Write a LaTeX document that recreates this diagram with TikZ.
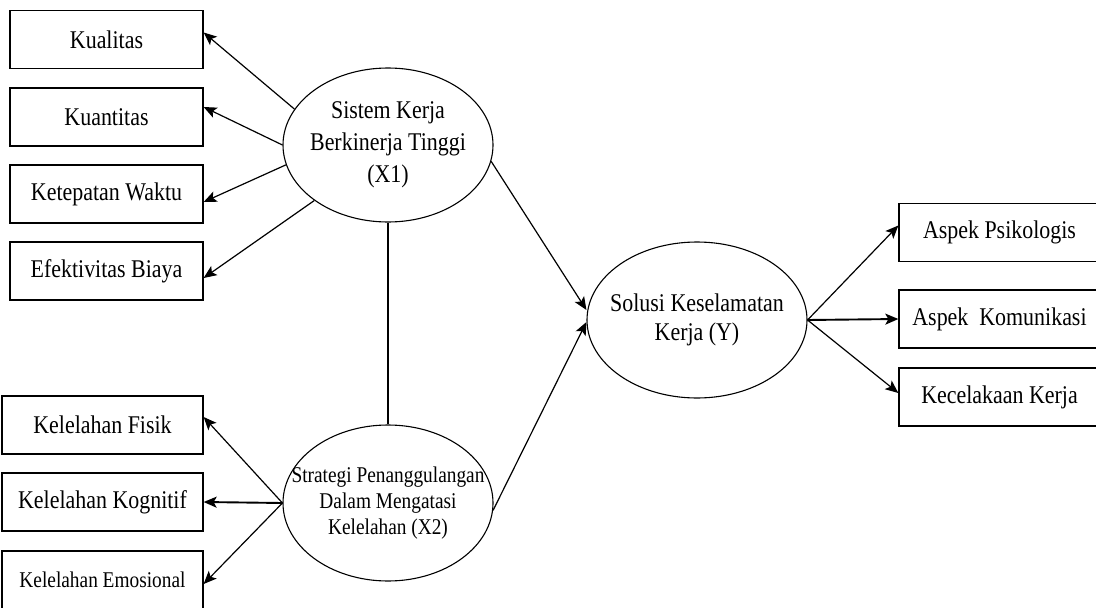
\documentclass[tikz,border=0pt]{standalone}
\usepackage{fontspec}
\setmainfont{Liberation Serif}[FakeStretch=0.86]
\usetikzlibrary{arrows.meta,shapes.geometric}
\begin{document}
\begin{tikzpicture}[x=1pt,y=-1pt,
  ind/.style={draw,line width=1.3pt,minimum width=193pt,minimum height=58pt,inner sep=0pt,font=\fontsize{25.5}{30}\selectfont},
  lat/.style={draw,ellipse,line width=1.1pt,inner xsep=-40pt,inner ysep=0pt,align=center},
  arr/.style={line width=1.2pt,-{Stealth[length=13pt,width=11pt,inset=3pt]}},
  thk/.style={line width=1.9pt,-{Stealth[length=13pt,width=11pt,inset=3pt]}},
]
\clip (0,0) rectangle (1096,608);
\useasboundingbox (0,0) rectangle (1096,608);
% indicator boxes
\node[ind] (kual) at (106.5,39.5) {Kualitas};
\node[ind] (kuan) at (106.5,117) {Kuantitas};
\node[ind] (ktp) at (106.5,194) {Ketepatan Waktu};
\node[ind] (efk) at (106.5,271) {Efektivitas Biaya};
\node[ind,minimum width=201pt] (fis) at (102.5,425) {Kelelahan Fisik};
\node[ind,minimum width=201pt] (kog) at (102.5,502) {Kelelahan Kognitif};
\node[ind,minimum width=201pt,font=\fontsize{22.5}{26}\selectfont] (emo) at (102.5,580) {Kelelahan Emosional};
\node[ind,minimum width=201pt] (psi) at (999.5,232.5) {Aspek Psikologis};
\node[ind,minimum width=201pt] (kom) at (999.5,319) {Aspek~~Komunikasi};
\node[ind,minimum width=201pt] (kec) at (999.5,397) {Kecelakaan Kerja};
% latent variables
\node[lat,minimum width=210pt,minimum height=154pt,font=\fontsize{25.5}{32}\selectfont] (x1) at (388,145) {Sistem Kerja\\Berkinerja Tinggi\\(X1)};
\node[lat,minimum width=210pt,minimum height=156pt,inner xsep=-50pt,font=\fontsize{22.5}{26}\selectfont] (x2) at (388,503) {Strategi Penanggulangan\\Dalam Mengatasi\\Kelelahan (X2)};
\node[lat,minimum width=220pt,minimum height=156pt,font=\fontsize{25.5}{29}\selectfont] (y) at (697,320) {Solusi Keselamatan\\Kerja (Y)};
% connectors X1
\draw[arr] (x1.159) -- ([yshift=7pt]kual.east);
\draw[arr] (x1.180) -- ([yshift=10pt]kuan.east);
\draw[arr] (x1.191) -- ([yshift=-8pt]ktp.east);
\draw[arr] (x1.217) -- ([yshift=-7pt]efk.east);
% connectors X2
\draw[arr] (x2.west) -- ([yshift=8pt]fis.east);
\draw[thk] (x2.west) -- (kog.east);
\draw[arr] (x2.west) -- ([yshift=-4pt]emo.east);
% correlation
\draw[line width=1.2pt] (x1.south) -- (x2.north);
% paths to Y
\draw[arr] (x1.-9) -- ([yshift=10pt]y.west);
\draw[arr] (x2.-4) -- ([yshift=-2pt]y.west);
% connectors Y
\draw[arr] (y.east) -- ([yshift=7pt]psi.west);
\draw[thk] (y.east) -- (kom.west);
\draw[arr] (y.east) -- ([yshift=4pt]kec.west);
\end{tikzpicture}
\end{document}
